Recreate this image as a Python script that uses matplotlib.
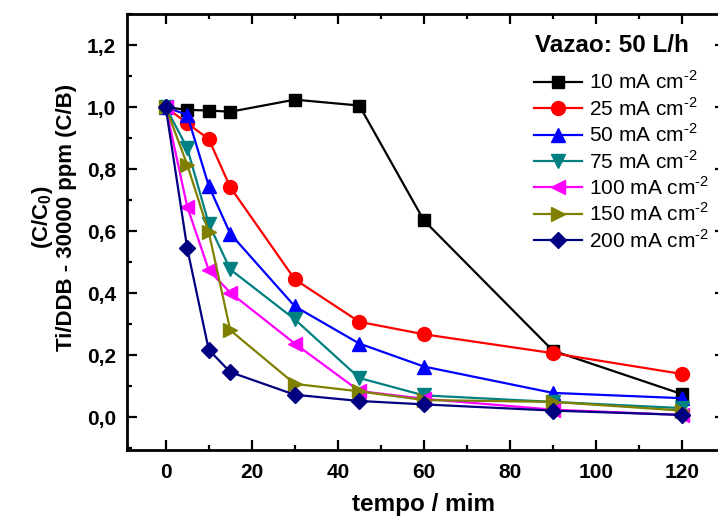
"""
plot.py
"""

import matplotlib
matplotlib.use('Agg')
import matplotlib.pyplot as plt
from matplotlib.ticker import MultipleLocator, FuncFormatter

plt.rcParams['font.family'] = ['Liberation Sans', 'DejaVu Sans']
plt.rcParams['mathtext.fontset'] = 'custom'
plt.rcParams['mathtext.rm'] = 'Liberation Sans'
plt.rcParams['mathtext.bf'] = 'Liberation Sans:bold'

# Sampling times (min)
tempo = [0, 5, 10, 15, 30, 45, 60, 90, 120]

# Normalised concentration C/C0 for each current density
c_10 = [1.0, 0.991, 0.989, 0.985, 1.024, 1.005, 0.635, 0.215, 0.075]
c_25 = [1.0, 0.948, 0.897, 0.742, 0.445, 0.308, 0.268, 0.207, 0.140]
c_50 = [1.0, 0.975, 0.746, 0.592, 0.358, 0.238, 0.164, 0.079, 0.062]
c_75 = [1.0, 0.868, 0.624, 0.477, 0.316, 0.127, 0.071, 0.050, 0.030]
c_100 = [1.0, 0.679, 0.475, 0.402, 0.238, 0.085, 0.060, 0.025, 0.008]
c_150 = [1.0, 0.814, 0.597, 0.281, 0.108, 0.084, 0.056, 0.050, 0.022]
c_200 = [1.0, 0.545, 0.218, 0.146, 0.073, 0.053, 0.042, 0.022, 0.008]

# hyphen (U+2010) keeps the small "-2" look of the original exponent
labels = ['10 mA cm$^{\u20102}$', '25 mA cm$^{\u20102}$',
          '50 mA cm$^{\u20102}$', '75 mA cm$^{\u20102}$',
          '100 mA cm$^{\u20102}$', '150 mA cm$^{\u20102}$',
          '200 mA cm$^{\u20102}$']
series = [c_10, c_25, c_50, c_75, c_100, c_150, c_200]
colors = ['#000000', '#FF0000', '#0000FF', '#008080', '#FF00FF',
          '#808000', '#000080']
markers = ['s', 'o', '^', 'v', '<', '>', 'D']
msizes = [9, 10, 10.5, 10.5, 10.5, 10.5, 8.5]

fig = plt.figure(figsize=(7.18, 5.21), dpi=100)
ax = fig.add_axes([127 / 718, 71 / 521, 598 / 718, 436 / 521])

for i in range(len(series)):
    ax.plot(tempo, series[i], color=colors[i], marker=markers[i],
            markersize=msizes[i], linewidth=1.6, label=labels[i])

ax.set_xlim(-9, 130)
ax.set_ylim(-0.105, 1.3)
ax.xaxis.set_major_locator(MultipleLocator(20))
ax.xaxis.set_minor_locator(MultipleLocator(10))
ax.yaxis.set_major_locator(MultipleLocator(0.2))
ax.yaxis.set_minor_locator(MultipleLocator(0.1))
ax.yaxis.set_major_formatter(
    FuncFormatter(lambda v, p: ('%.1f' % v).replace('.', ',')))

ax.tick_params(which='both', direction='in', top=True, right=True,
               width=1.6, labelsize=15)
ax.tick_params(axis='x', pad=9)
ax.tick_params(axis='y', pad=8)
ax.tick_params(which='major', length=7)
ax.tick_params(which='minor', length=3.5)
for lab in ax.get_xticklabels() + ax.get_yticklabels():
    lab.set_fontweight('bold')
for sp in ax.spines.values():
    sp.set_linewidth(2)

ax.set_xlabel('tempo / mim', fontsize=17.5, fontweight='bold')
ax.xaxis.set_label_coords(0.495, -0.098)
ax.set_ylabel('(C/C$_\\mathbf{0}$)\nTi/DDB - 30000 ppm (C/B)', fontsize=16,
              fontweight='bold', linespacing=1.1)
ax.yaxis.set_label_coords(-0.083, 0.534)

# legend title drawn apart so its gap to the entries can be set
fig.text(535 / 718, 1 - 45 / 521, 'Vazao: 50 L/h', fontsize=17.5,
         fontweight='bold', ha='left', va='center')
leg = ax.legend(loc='upper left', bbox_to_anchor=(517 / 718, 1 - 54 / 521),
                bbox_transform=fig.transFigure, frameon=False, fontsize=15,
                handlelength=2.3, handletextpad=0.35,
                labelspacing=0.18, borderpad=0.3)

fig.savefig('out.png', dpi=100)
